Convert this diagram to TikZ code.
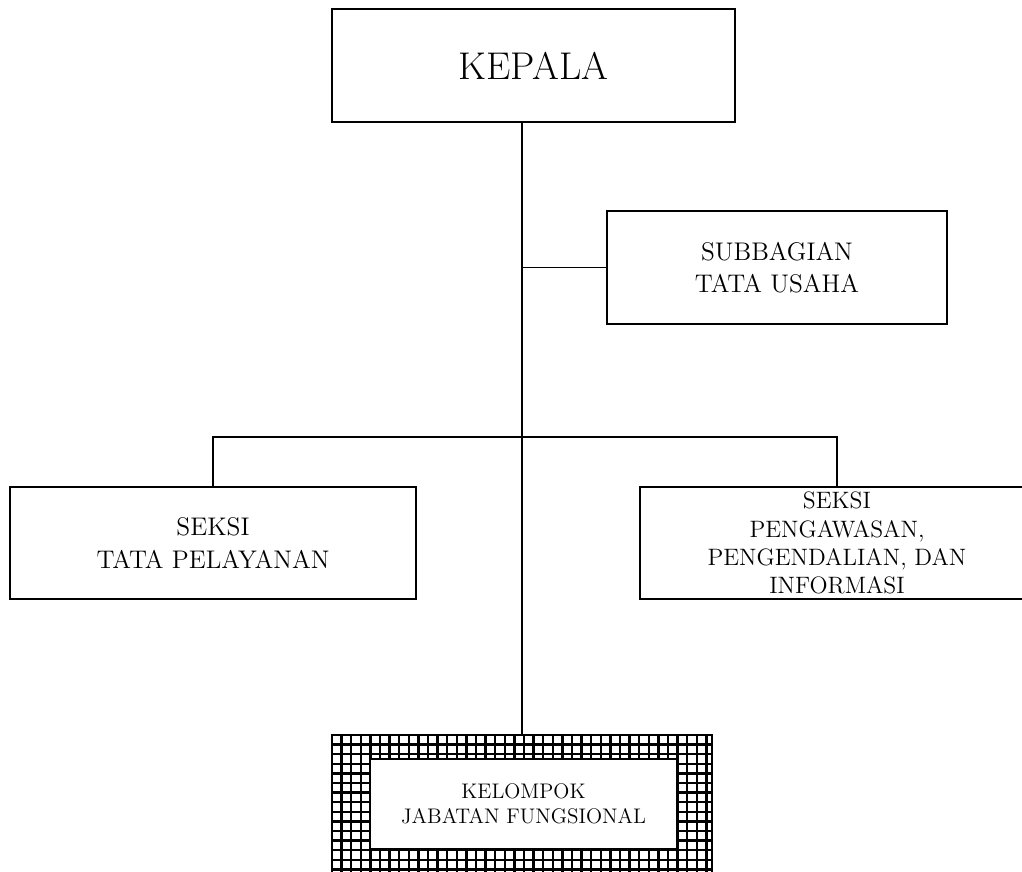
\documentclass[tikz,border=0pt]{standalone}
\usepackage{tikz}
\usetikzlibrary{positioning}

\begin{document}
\begin{tikzpicture}[x=0.02cm, y=-0.02cm,
  unit/.style={rectangle, draw=black, line width=0.8pt, fill=white, align=center,
               font=\fontsize{14.5}{18.5}\selectfont, inner sep=2pt},
  head/.style={unit, font=\fontsize{22}{26}\selectfont},
  small/.style={unit, font=\fontsize{12}{14}\selectfont},
  link/.style={line width=0.8pt, black}]

\useasboundingbox (0,0) rectangle (1022,872);

\node[head, minimum width=8.06cm, minimum height=2.26cm] (kepala) at (533.5,65.5) {KEPALA};
\node[unit, minimum width=6.8cm, minimum height=2.26cm] (tu) at (777,267.5)
  {SUBBAGIAN\\TATA USAHA};
\node[unit, minimum width=8.12cm, minimum height=2.24cm] (pelayanan) at (213,543)
  {SEKSI\\TATA PELAYANAN};
\node[unit, minimum width=7.88cm, minimum height=2.24cm, inner sep=0pt,
      font=\fontsize{13.5}{16}\selectfont] (pengawasan) at (837,543)
  {SEKSI\\PENGAWASAN,\\PENGENDALIAN, DAN\\INFORMASI};

% kelompok jabatan fungsional, hatched frame
\node[rectangle, draw=black, line width=0.8pt, minimum width=7.6cm,
      minimum height=2.76cm] (jf) at (522,804) {};
\begin{scope}
  \clip (jf.south west) rectangle (jf.north east);
  \foreach \i in {0,...,40} {
    \draw[line width=1.4pt] (332+\i*9.6,730) -- (332+\i*9.6,880);
  }
  \foreach \j in {0,...,15} {
    \draw[line width=1.4pt] (320,735+\j*9.6) -- (720,735+\j*9.6);
  }
\end{scope}
\node[small, minimum width=6.14cm, minimum height=1.8cm] (fungsional) at (523.5,804)
  {KELOMPOK\\JABATAN FUNGSIONAL};

\coordinate (bar) at (522,437);

\draw[link] (jf.north) -- (jf.north |- kepala.south);
\draw[link] (tu.west) -- (tu.west -| jf.north);
\draw[link] (pelayanan.north) |- (bar) -| (pengawasan.north);
\end{tikzpicture}
\end{document}
